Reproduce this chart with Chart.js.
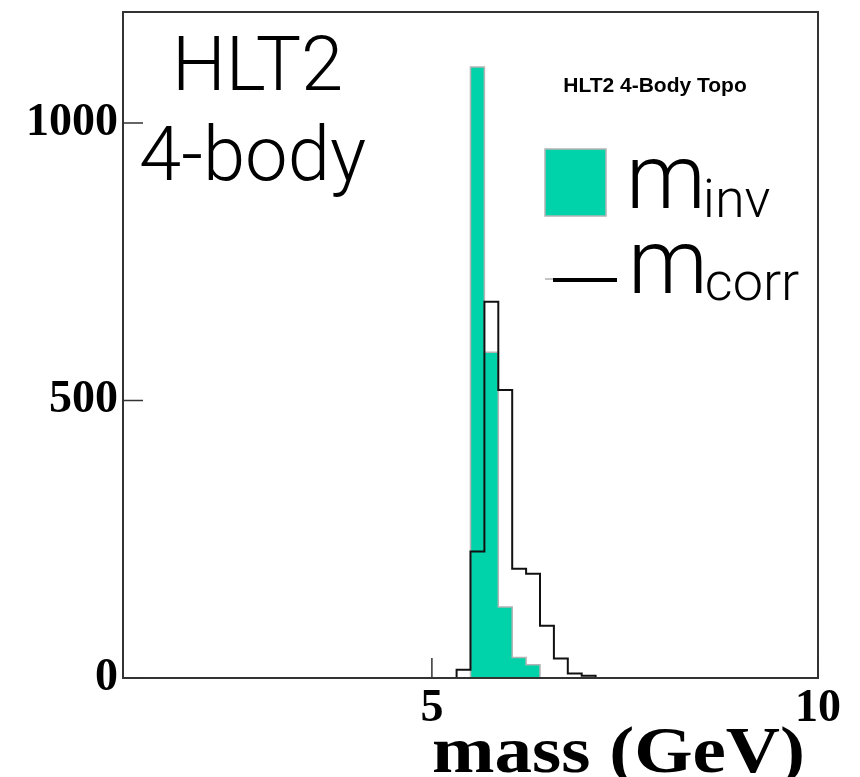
<!DOCTYPE html>
<html>
<head>
<meta charset="utf-8">
<script src="https://cdn.jsdelivr.net/npm/chart.js@4"></script>
<style>
  html, body { margin: 0; padding: 0; background: #fff; }
  canvas { display: block; }
</style>
</head>
<body>
<canvas id="chart" width="860" height="777"></canvas>
<script>
// bin edges (GeV), 0.18 GeV per bin, only the filled region is listed
const massEdges = [5.14, 5.32, 5.50, 5.68, 5.86, 6.04, 6.22, 6.40, 6.58, 6.76, 6.94, 7.12, 7.30];
// entries per bin (one less than edges)
const mCorrCounts = [0, 15, 228, 678, 519, 197, 188, 94, 35, 8, 4, 0];
const mInvCounts  = [0, 0, 1101, 587, 128, 37, 24, 0, 0, 0, 0, 0];

const xTicks = [5, 10];
const yTicks = [0, 500, 1000];

const teal = '#00d3aa';
const tealEdge = '#b4b4b4';

// step histogram : each point holds its value until the next edge
function histo(edges, counts){
    var pts = [];
    for(var i=0; i<counts.length; i++){
        pts.push({x: edges[i], y: counts[i]});
    }
    pts.push({x: edges[edges.length-1], y: 0});
    return pts;
}

const thin = '"Roboto", "Lato", "Liberation Sans", sans-serif';

var decor = {
    id: 'decor',
    afterDatasetsDraw(chart){
        const c = chart.ctx, a = chart.chartArea;
        c.save();
        c.strokeStyle = '#333';
        c.lineWidth = 2;
        c.strokeRect(a.left, a.top, a.right - a.left, a.bottom - a.top);
        // ticks drawn inside the frame
        c.lineWidth = 1.5;
        c.beginPath();
        chart.scales.x.ticks.forEach(function(t){
            const px = chart.scales.x.getPixelForValue(t.value);
            c.moveTo(px, a.bottom);
            c.lineTo(px, a.bottom - 20);
        });
        chart.scales.y.ticks.forEach(function(t){
            const py = chart.scales.y.getPixelForValue(t.value);
            c.moveTo(a.left, py);
            c.lineTo(a.left + 20, py);
        });
        c.stroke();
        c.restore();
    },
    afterDraw(chart){
        const c = chart.ctx;
        c.save();
        c.fillStyle = '#000';
        c.textBaseline = 'alphabetic';

        c.font = '300 76px ' + thin;
        c.textAlign = 'left';
        c.fillText('HLT2', 172, 90);
        c.fillText('4-body', 139, 180);

        c.font = 'bold 21px "Liberation Sans", Arial, sans-serif';
        c.textAlign = 'center';
        c.fillText('HLT2 4-Body Topo', 655, 92);

        // legend
        c.fillStyle = teal;
        c.fillRect(545, 149, 61, 67);
        c.strokeStyle = tealEdge;
        c.lineWidth = 1.5;
        c.strokeRect(545, 149, 61, 67);

        c.strokeStyle = '#888';
        c.lineWidth = 1;
        c.beginPath(); c.moveTo(545, 279); c.lineTo(560, 279); c.stroke();
        c.strokeStyle = '#000';
        c.lineWidth = 4;
        c.beginPath(); c.moveTo(553, 280); c.lineTo(617, 280); c.stroke();

        c.fillStyle = '#000';
        c.textAlign = 'left';
        c.font = '300 90px ' + thin;
        var w = c.measureText('m').width;
        c.fillText('m', 626, 208);
        c.fillText('m', 628, 293);
        c.font = '300 54px ' + thin;
        c.fillText('inv', 626 + w - 3, 217);
        c.fillText('corr', 628 + w - 3, 300);

        // axis title, right aligned under the axis end
        c.font = 'bold 66px "Liberation Serif", "Times New Roman", serif';
        var tw = c.measureText('mass (GeV)').width;
        var target = 373;
        c.translate(805 - target, 772);
        c.scale(target / tw, 1);
        c.fillText('mass (GeV)', 0, 0);
        c.restore();
    }
};

var ctx = document.getElementById('chart').getContext('2d');
var myChart = new Chart(ctx, {
    type: 'line',
    data: {
        datasets: [{
            label: 'm_corr',
            data: histo(massEdges, mCorrCounts),
            stepped: true,
            borderColor: '#111',
            borderWidth: 2,
            fill: false,
            pointRadius: 0,
            order: 0
        }, {
            label: 'm_inv',
            data: histo(massEdges, mInvCounts),
            stepped: true,
            borderColor: tealEdge,
            borderWidth: 1.5,
            backgroundColor: teal,
            fill: 'origin',
            pointRadius: 0,
            order: 1
        }]
    },
    options: {
        responsive: false,
        animation: false,
        devicePixelRatio: 1,
        layout: { padding: { top: 12, right: 42, left: 0, bottom: 0 } },
        plugins: { legend: { display: false }, tooltip: { enabled: false } },
        scales: {
            x: {
                type: 'linear',
                min: 1,
                max: 10,
                grid: { display: false, drawTicks: false },
                border: { display: false },
                afterBuildTicks: function(s){ s.ticks = xTicks.map(function(v){ return {value: v}; }); },
                afterFit: function(s){ s.height = 99; s.paddingLeft = 0; s.paddingRight = 0; },
                ticks: {
                    autoSkip: false,
                    maxRotation: 0,
                    padding: 4,
                    color: '#000',
                    font: { family: '"Liberation Serif", "Times New Roman", serif', size: 46, weight: 'bold' },
                    callback: function(v){ return String(v); }
                }
            },
            y: {
                min: 0,
                max: 1200,
                grid: { display: false, drawTicks: false },
                border: { display: false },
                afterBuildTicks: function(s){ s.ticks = yTicks.map(function(v){ return {value: v}; }); },
                afterFit: function(s){ s.width = 123; s.paddingTop = 0; s.paddingBottom = 0; },
                ticks: {
                    autoSkip: false,
                    padding: 5,
                    color: '#000',
                    font: { family: '"Liberation Serif", "Times New Roman", serif', size: 46, weight: 'bold' },
                    callback: function(v){ return String(v); }
                }
            }
        }
    },
    plugins: [decor]
});
</script>
</body>
</html>
